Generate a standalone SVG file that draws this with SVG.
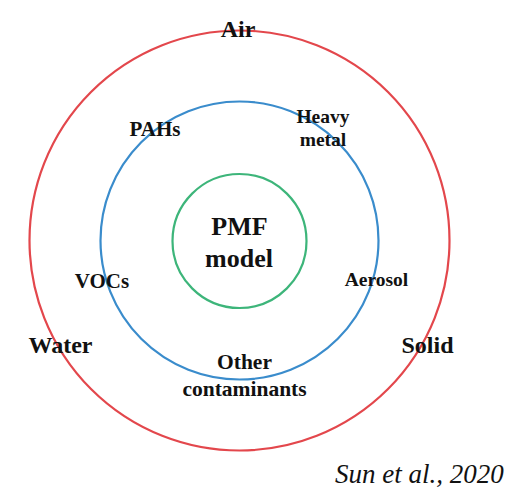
<svg xmlns="http://www.w3.org/2000/svg" width="520" height="500" viewBox="0 0 520 500">
<style>
.ring{fill:none;stroke-width:2.2}
.t{font-family:"Liberation Serif","Times New Roman",serif;font-weight:bold;fill:#111;text-anchor:middle}
.cite{font-family:"Liberation Serif","Times New Roman",serif;font-style:italic;fill:#111}
</style>
<rect width="520" height="500" fill="#fff"/>
<g id="outer">
<circle class="ring" cx="239.5" cy="240.5" r="210" stroke="#e3474c"/>
<text class="t" x="238" y="37" font-size="24">Air</text>
<text class="t" x="60.5" y="353" font-size="24">Water</text>
<text class="t" x="427.5" y="353" font-size="24">Solid</text>
</g>
<g id="middle">
<circle class="ring" cx="239.5" cy="240.5" r="139" stroke="#3a8ccc"/>
<text class="t" x="155" y="136" font-size="21">PAHs</text>
<text class="t" x="323" y="122.5" font-size="19.5">Heavy</text>
<text class="t" x="323" y="146" font-size="19.5">metal</text>
<text class="t" x="102" y="288" font-size="21">VOCs</text>
<text class="t" x="376.5" y="286" font-size="19.5">Aerosol</text>
<text class="t" x="244.5" y="369" font-size="21.5">Other</text>
<text class="t" x="244.5" y="395.5" font-size="21.5">contaminants</text>
</g>
<g id="center">
<circle class="ring" cx="239.5" cy="241" r="67" stroke="#3db57a"/>
<text class="t" x="239.5" y="235" font-size="26">PMF</text>
<text class="t" x="239" y="266.5" font-size="26">model</text>
</g>
<text class="cite" x="335" y="483" font-size="27">Sun et al., 2020</text>
</svg>
